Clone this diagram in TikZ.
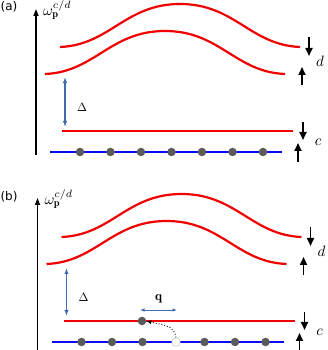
\documentclass[tikz,border=0pt]{standalone}
\usepackage{amsmath,amssymb}
\usepackage{fontspec}
\usepackage{tikz}
\usetikzlibrary{arrows.meta,positioning}
\newfontfamily\panelfont{DejaVu Sans}
\definecolor{BandRed}{HTML}{F00000}
\definecolor{CoreBlue}{HTML}{0A0AF5}
\definecolor{SiteGray}{HTML}{5A5A5A}
\definecolor{GapBlue}{HTML}{3F6CAC}

\begin{document}
\begin{tikzpicture}[x=1pt,y=1pt,>=Latex,
    band/.style={BandRed,line width=2.2pt},
    core/.style={CoreBlue,line width=1.8pt},
    site/.style={circle,fill=SiteGray,inner sep=0pt,minimum size=8.5pt},
    spin/.style={-{Triangle[length=8pt,width=7pt]},line width=1.8pt},
    axis/.style={-{Triangle[length=7pt,width=5pt]},line width=1.3pt},
    gap/.style={{Latex[length=6pt,width=4.5pt]}-{Latex[length=6pt,width=4.5pt]},
                GapBlue,line width=1.2pt},
    biglabel/.style={scale=1.5,inner sep=0.5pt},
    smalllabel/.style={scale=1.2,inner sep=0.5pt},
    panellabel/.style={font=\panelfont\fontsize{12}{14}\selectfont,inner sep=0pt}]
  \useasboundingbox (0,0) rectangle (327,350);
  % Panel (a): label and energy axis.
  \node[panellabel] (labelA) at (9,343) {(a)};
  \coordinate (axisA-bot) at (36,195);
  \coordinate (axisA-top) at (36,341);
  \draw[axis] (axisA-bot) -- (axisA-top);
  \node[biglabel,anchor=base west] (omegaA) at (42,334) {$\omega^{c/d}_{\mathbf{p}}$};
  % Panel (a): d bands.
  \draw[band] (60,303) .. controls (110,305) and (125,346) .. (180,346)
              .. controls (235,346) and (250,305) .. (300,303);
  \draw[band] (45,276) .. controls (95,278) and (110,319) .. (165,319)
              .. controls (220,319) and (235,278) .. (285,276);
  % Panel (a): gap.
  \coordinate (gapA-top) at (65,273);
  \coordinate (gapA-bot) at (65,223);
  \draw[gap] (gapA-top) -- (gapA-bot);
  \node[smalllabel] (deltaA) at (82,243) {$\Delta$};
  % Panel (a): c band and core level.
  \coordinate (cA-left) at (62,219);
  \coordinate (cA-right) at (293,219);
  \draw[band] (cA-left) -- (cA-right);
  \coordinate (coreA-left) at (50,198);
  \coordinate (coreA-right) at (282,198);
  \draw[core] (coreA-left) -- (coreA-right);
  \node[site] (siteA1) at (80,198) {};
  \node[site] (siteA2) at (110.5,198) {};
  \node[site] (siteA3) at (141,198) {};
  \node[site] (siteA4) at (171.5,198) {};
  \node[site] (siteA5) at (202,198) {};
  \node[site] (siteA6) at (232.5,198) {};
  \node[site] (siteA7) at (263,198) {};
  % Panel (a): spins.
  \coordinate (dnA-d1) at (309,313);
  \coordinate (dnA-d2) at (309,294);
  \coordinate (upA-d1) at (302,265);
  \coordinate (upA-d2) at (302,283);
  \draw[spin] (dnA-d1) -- (dnA-d2);
  \draw[spin] (upA-d1) -- (upA-d2);
  \node[biglabel] (dA) at (320,289) {$d$};
  \coordinate (dnA-c1) at (303,228);
  \coordinate (dnA-c2) at (303,210);
  \coordinate (upA-c1) at (298,188);
  \coordinate (upA-c2) at (298,207);
  \draw[spin] (dnA-c1) -- (dnA-c2);
  \draw[spin] (upA-c1) -- (upA-c2);
  \node[biglabel] (cA) at (318,207.5) {$c$};
  \begin{scope}[shift={(1.5,-190)}]
    % Panel (b): label and energy axis.
    \node[panellabel] (labelB) at (7.5,343) {(b)};
    \coordinate (axisB-bot) at (36,188);
    \coordinate (axisB-top) at (36,342);
    \draw[axis] (axisB-bot) -- (axisB-top);
    \node[biglabel,anchor=base west] (omegaB) at (42,335) {$\omega^{c/d}_{\mathbf{p}}$};
    % Panel (b): d bands.
    \draw[band] (60,303) .. controls (110,305) and (125,346) .. (180,346)
                .. controls (235,346) and (250,305) .. (300,303);
    \draw[band] (45,276) .. controls (95,278) and (110,319) .. (165,319)
                .. controls (220,319) and (235,278) .. (285,276);
    % Panel (b): gap.
    \coordinate (gapB-top) at (65,272);
    \coordinate (gapB-bot) at (65,224);
    \draw[gap] (gapB-top) -- (gapB-bot);
    \node[smalllabel] (deltaB) at (82,243) {$\Delta$};
    % Panel (b): c band and core level with one excited electron.
    \coordinate (cB-left) at (62,219);
    \coordinate (cB-right) at (293,219);
    \draw[band] (cB-left) -- (cB-right);
    \coordinate (coreB-left) at (50,198);
    \coordinate (coreB-right) at (282,198);
    \draw[core] (coreB-left) -- (coreB-right);
    \node[site] (siteB1) at (80,198) {};
    \node[site] (siteB2) at (110.5,198) {};
    \node[site] (siteB3) at (141,198) {};
    \node[site,fill=white,draw=SiteGray!35,line width=0.5pt] (holeB) at (174.5,198) {};
    \node[site] (siteB5) at (203,198) {};
    \node[site] (siteB6) at (233.5,198) {};
    \node[site] (siteB7) at (264,198) {};
    \node[site] (excitedB) at (140.5,219) {};
    \draw[dotted,line width=0.9pt,-{Latex[length=5pt,width=4pt]}]
         (holeB.north) to[out=95,in=-15] (excitedB.east);
    % Panel (b): momentum transfer.
    \coordinate (qB-left) at (138.5,230);
    \coordinate (qB-right) at (175.5,230);
    \draw[{Latex[length=4.5pt,width=3.5pt]}-{Latex[length=4.5pt,width=3.5pt]},
          GapBlue,line width=0.9pt] (qB-left) -- (qB-right);
    \node[smalllabel,scale=1.1] (qB) at (157,241) {$\mathbf{q}$};
    % Panel (b): spins.
    \coordinate (dnB-d1) at (309,313);
    \coordinate (dnB-d2) at (309,294);
    \coordinate (upB-d1) at (302,265);
    \coordinate (upB-d2) at (302,283);
    \draw[spin] (dnB-d1) -- (dnB-d2);
    \draw[spin] (upB-d1) -- (upB-d2);
    \node[biglabel] (dB) at (320,289) {$d$};
    \coordinate (dnB-c1) at (303,228);
    \coordinate (dnB-c2) at (303,210);
    \coordinate (upB-c1) at (298,188);
    \coordinate (upB-c2) at (298,207);
    \draw[spin] (dnB-c1) -- (dnB-c2);
    \draw[spin] (upB-c1) -- (upB-c2);
    \node[biglabel] (cB) at (318,207.5) {$c$};
  \end{scope}
\end{tikzpicture}
\end{document}
